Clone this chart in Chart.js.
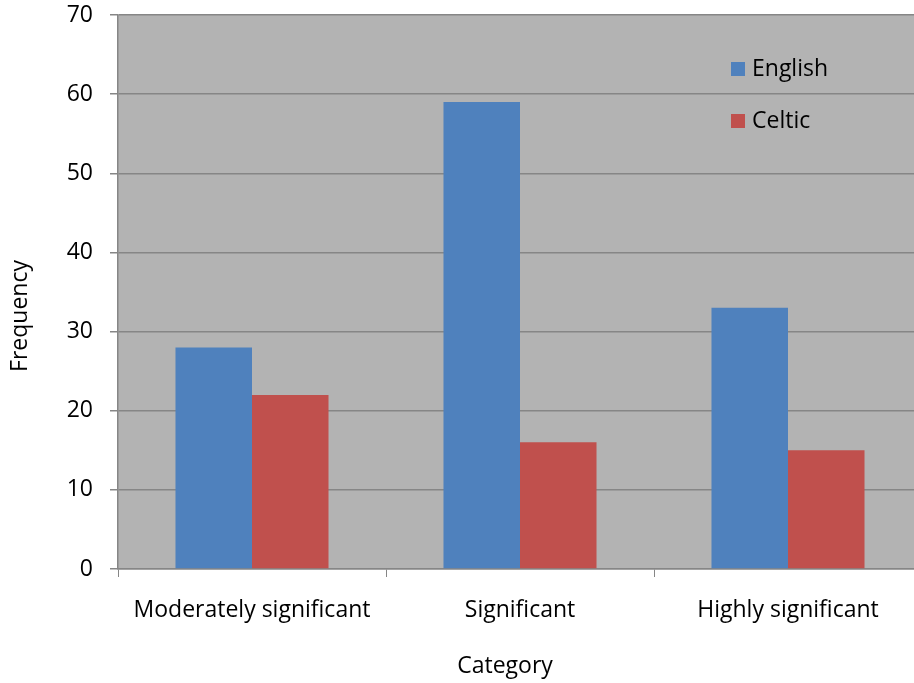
<!DOCTYPE html>
<html>
<head>
<meta charset="utf-8">
<script src="https://cdn.jsdelivr.net/npm/chart.js@4/dist/chart.umd.min.js"></script>
<style>
  html, body { margin: 0; padding: 0; background: #ffffff; overflow: hidden; width: 914px; height: 683px; }
  #wrap { width: 922px; height: 683px; }
</style>
</head>
<body>
<div id="wrap"><canvas id="chart" width="922" height="683"></canvas></div>
<script>
const categories = ['Moderately significant', 'Significant', 'Highly significant'];
const englishValues = [28, 59, 33];
const celticValues = [22, 16, 15];
const seriesNames = ['English', 'Celtic'];
const yTicks = { min: 0, max: 70, step: 10 };
const axisTitles = { x: 'Category', y: 'Frequency' };

const FONT = '"Open Sans", sans-serif';
const FSIZE = 23;
const GRID = '#868686';

// Grey plot background behind the bars
const plotBackground = {
  id: 'plotBackground',
  beforeDraw(chart) {
    const { ctx, chartArea: a } = chart;
    ctx.save();
    ctx.fillStyle = '#b3b3b3';
    ctx.fillRect(a.left, a.top, a.right - a.left, a.bottom - a.top);
    ctx.restore();
  }
};

// Legend drawn inside the plot, upper right
const insideLegend = {
  id: 'insideLegend',
  afterDraw(chart) {
    const { ctx } = chart;
    const x = 731, y0 = 69, gap = 52, box = 14;
    ctx.save();
    ctx.font = FSIZE + 'px ' + FONT;
    ctx.textBaseline = 'middle';
    chart.data.datasets.forEach((ds, i) => {
      const y = y0 + i * gap;
      ctx.fillStyle = ds.backgroundColor;
      ctx.fillRect(x, y - box / 2, box, box);
      ctx.fillStyle = '#000000';
      ctx.fillText(ds.label, x + box + 7, y);
    });
    ctx.restore();
  }
};

// Axis titles, placed within the visible page area
const axisTitlePlugin = {
  id: 'axisTitlePlugin',
  afterDraw(chart) {
    const { ctx } = chart;
    ctx.save();
    ctx.font = FSIZE + 'px ' + FONT;
    ctx.fillStyle = '#000000';
    ctx.textAlign = 'center';
    ctx.textBaseline = 'middle';
    ctx.fillText(axisTitles.x, 505, 666);
    ctx.translate(20, 316);
    ctx.rotate(-Math.PI / 2);
    ctx.fillText(axisTitles.y, 0, 0);
    ctx.restore();
  }
};

new Chart(document.getElementById('chart'), {
  type: 'bar',
  data: {
    labels: categories,
    datasets: [
      { label: seriesNames[0], data: englishValues, backgroundColor: '#4f81bd' },
      { label: seriesNames[1], data: celticValues, backgroundColor: '#c0504d' }
    ]
  },
  options: {
    responsive: false,
    animation: false,
    layout: { padding: { top: 15, right: 0, left: 0, bottom: 0 } },
    datasets: { bar: { categoryPercentage: 0.571, barPercentage: 1.0 } },
    plugins: { legend: { display: false }, tooltip: { enabled: false } },
    scales: {
      x: {
        grid: { drawOnChartArea: false, drawTicks: true, tickLength: 8, color: GRID, offset: true },
        border: { color: GRID, width: 1.5 },
        ticks: { color: '#000000', font: { family: FONT, size: FSIZE }, padding: 20, maxRotation: 0 },
        afterFit(scale) { scale.height = 114; scale.paddingLeft = 0; scale.paddingRight = 0; }
      },
      y: {
        min: yTicks.min,
        max: yTicks.max,
        ticks: { stepSize: yTicks.step, color: '#000000', font: { family: FONT, size: FSIZE }, padding: 17 },
        grid: { color: GRID, lineWidth: 1.5, tickLength: 8, drawTicks: true },
        border: { color: GRID, width: 1.5 },
        afterFit(scale) { scale.width = 118; scale.paddingTop = 0; scale.paddingBottom = 0; }
      }
    }
  },
  plugins: [plotBackground, insideLegend, axisTitlePlugin]
});
</script>
</body>
</html>
